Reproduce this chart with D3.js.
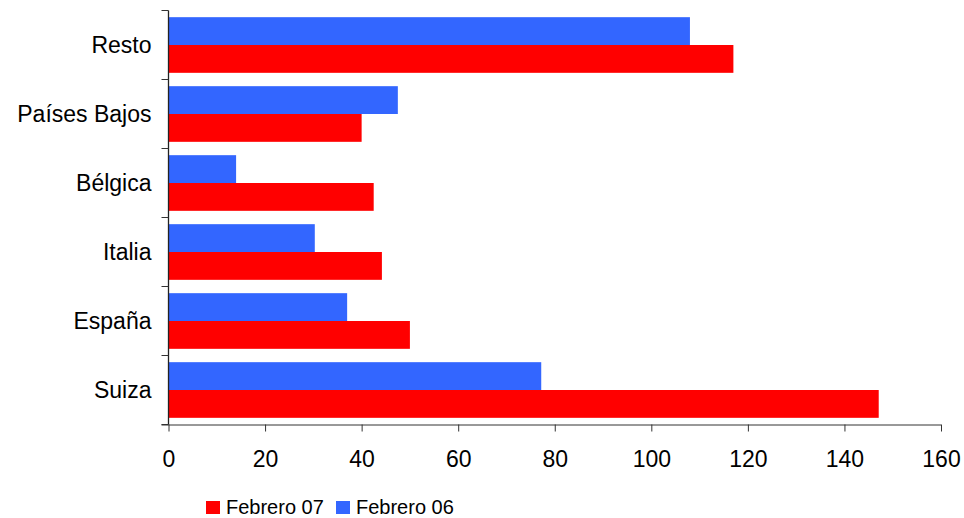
<!DOCTYPE html>
<html>
<head>
<meta charset="utf-8">
<script src="https://cdn.jsdelivr.net/npm/d3@7"></script>
<style>
  html, body { margin: 0; padding: 0; background: #fff; }
  svg { display: block; font-family: "Liberation Sans", Arial, sans-serif; }
</style>
</head>
<body>
<svg id="chart" width="964" height="518"></svg>
<script>
// Countries, top to bottom
const categories = ["Resto", "Países Bajos", "Bélgica", "Italia", "España", "Suiza"];
// Series values
const febrero06 = [108, 47.5, 14, 30.3, 37, 77.2];
const febrero07 = [117, 40, 42.5, 44.2, 50, 147.1];
const seriesNames = ["Febrero 06", "Febrero 07"];
const seriesColors = ["#3366FF", "#FF0000"];
const xTicks = [0, 20, 40, 60, 80, 100, 120, 140, 160];

const svg = d3.select("#chart");
const plotLeft = 168.5, plotRight = 941, plotTop = 10.5, plotBottom = 424.5;

const x = d3.scaleLinear().domain([0, 160]).range([plotLeft, plotRight]);
const y = d3.scaleBand().domain(categories).range([plotTop, plotBottom]).padding(0);
const inner = d3.scaleBand().domain(seriesNames)
  .range([0, y.bandwidth()]).paddingInner(0).paddingOuter(0.24);

const rows = categories.map((c, i) => ({
  cat: c,
  vals: [{ s: seriesNames[0], v: febrero06[i], col: seriesColors[0] },
         { s: seriesNames[1], v: febrero07[i], col: seriesColors[1] }]
}));

const g = svg.append("g");
g.selectAll("g.row").data(rows).join("g")
  .attr("class", "row")
  .attr("transform", d => `translate(0,${y(d.cat)})`)
  .selectAll("rect").data(d => d.vals).join("rect")
  .attr("x", x(0))
  .attr("y", d => inner(d.s))
  .attr("width", d => x(d.v) - x(0))
  .attr("height", inner.bandwidth())
  .attr("fill", d => d.col);

// X axis
const xAxis = svg.append("g")
  .attr("transform", `translate(0,${plotBottom})`)
  .call(d3.axisBottom(x).tickValues(xTicks).tickSize(7).tickPadding(19).tickSizeOuter(0));
xAxis.select(".domain").attr("stroke", "#333").attr("d", `M${plotLeft - 7},0.5H${plotRight}`);
xAxis.selectAll(".tick line").attr("stroke", "#333");
xAxis.selectAll("text").attr("font-size", 23).attr("fill", "#000")
  .attr("font-family", "'Liberation Sans', Arial, sans-serif");

// Y axis: ticks at band boundaries, labels at band centres
const yAxisG = svg.append("g");
yAxisG.append("line")
  .attr("x1", plotLeft).attr("x2", plotLeft).attr("y1", plotTop).attr("y2", plotBottom)
  .attr("stroke", "#222").attr("stroke-width", 1.3);
const bounds = categories.map(c => y(c)).concat([plotBottom]);
yAxisG.selectAll("line.tk").data(bounds).join("line")
  .attr("class", "tk")
  .attr("x1", plotLeft - 7).attr("x2", plotLeft)
  .attr("y1", d => d).attr("y2", d => d)
  .attr("stroke", "#333");
yAxisG.selectAll("text").data(categories).join("text")
  .attr("x", plotLeft - 17)
  .attr("y", d => y(d) + y.bandwidth() / 2)
  .attr("dy", "0.35em")
  .attr("text-anchor", "end")
  .attr("font-size", 23)
  .attr("fill", "#000")
  .text(d => d);

// Legend
const legendItems = [
  { name: "Febrero 07", col: "#FF0000", x: 206 },
  { name: "Febrero 06", col: "#3366FF", x: 336 }
];
const lg = svg.append("g");
lg.selectAll("rect").data(legendItems).join("rect")
  .attr("x", d => d.x).attr("y", 501).attr("width", 14).attr("height", 13)
  .attr("fill", d => d.col);
lg.selectAll("text").data(legendItems).join("text")
  .attr("x", d => d.x + 20).attr("y", 514)
  .attr("font-size", 20)
  .attr("fill", "#000")
  .text(d => d.name);
</script>
</body>
</html>
